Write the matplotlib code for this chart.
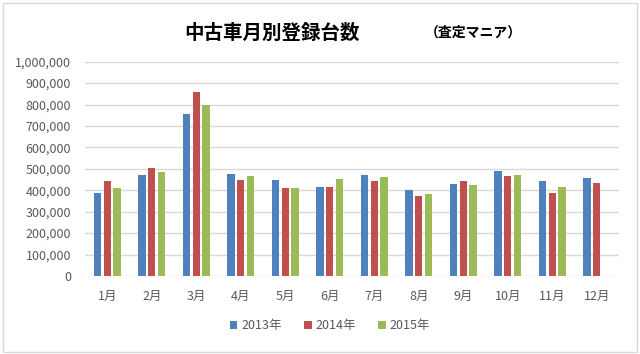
import matplotlib
matplotlib.use("Agg")
import matplotlib.pyplot as plt
import numpy as np
from matplotlib.patches import Rectangle
from matplotlib.ticker import FuncFormatter

plt.rcParams['font.family'] = ['Noto Sans CJK JP', 'DejaVu Sans']

months = ["1月", "2月", "3月", "4月", "5月", "6月", "7月", "8月", "9月", "10月", "11月", "12月"]
series_names = ["2013年", "2014年", "2015年"]
v2013 = [389000, 471000, 757000, 476000, 448000, 415000, 471000, 401000, 429000, 490000, 443000, 457000]
v2014 = [443000, 504000, 858000, 448000, 411000, 415000, 443000, 373000, 443000, 467000, 387000, 434000]
v2015 = [411000, 485000, 799000, 467000, 411000, 452000, 462000, 383000, 425000, 471000, 415000, None]
colors = ["#4F81BD", "#C0504D", "#9BBB59"]

fig = plt.figure(figsize=(6.4, 3.54), dpi=100)
ax = fig.add_axes([85/640, 1-276/354, (619-85)/640, (276-61.7)/354])

x = np.arange(len(months))
width = 0.165
pitch = 0.22
for i, (vals, name, c) in enumerate(zip([v2013, v2014, v2015], series_names, colors)):
    xs = [xi + (i-1)*pitch for xi, v in zip(x, vals) if v is not None]
    ys = [v for v in vals if v is not None]
    ax.bar(xs, ys, width=width, color=c, label=name, zorder=3)

ax.set_xlim(-0.5, 11.5)
ax.set_ylim(0, 1000000)
ax.set_yticks(np.arange(0, 1000001, 100000))
ax.yaxis.set_major_formatter(FuncFormatter(lambda v, p: f"{int(v):,}"))
ax.set_xticks(x)
ax.set_xticklabels(months)
ax.grid(axis='y', color='#D9D9D9', linewidth=1, zorder=0)
for s in ax.spines.values():
    s.set_visible(False)
ax.tick_params(axis='both', length=0, labelsize=9, colors='#595959')
ax.tick_params(axis='y', pad=10)
ax.tick_params(axis='x', pad=10)

fig.text(272/640, 1-33/354, "中古車月別登録台数", ha='center', va='center', fontsize=14, fontweight='bold', color='black')
fig.text(473/640, 1-33/354, "（査定マニア）", ha='center', va='center', fontsize=10, fontweight='bold', color='black')

leg = fig.legend(loc='center', bbox_to_anchor=(330/640, 1-326/354), ncol=3, frameon=False,
                 fontsize=9, handlelength=0.6, handleheight=0.6, handletextpad=0.3, columnspacing=1.8)
for t in leg.get_texts():
    t.set_color('#595959')

fig.patches.append(Rectangle((3/640, 2/354), 634/640, 349/354, transform=fig.transFigure,
                             fill=False, edgecolor='#D9D9D9', linewidth=1))

fig.savefig("out.png", dpi=100)
